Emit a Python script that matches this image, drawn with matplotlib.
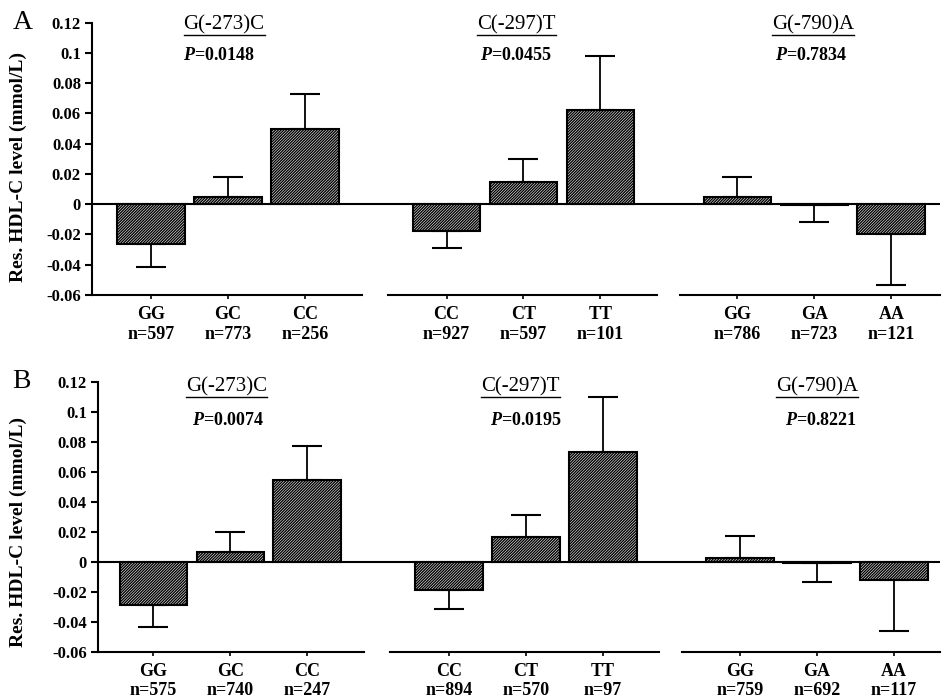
import numpy as np
import matplotlib
matplotlib.use('Agg')
import matplotlib.pyplot as plt
from matplotlib.lines import Line2D

plt.rcParams['font.family'] = 'Liberation Serif'
plt.rcParams['font.weight'] = 'bold'
plt.rcParams['mathtext.fontset'] = 'custom'
plt.rcParams['mathtext.it'] = 'Liberation Serif:italic:bold'
plt.rcParams['mathtext.rm'] = 'Liberation Serif:bold'
plt.rcParams['hatch.linewidth'] = 1.0

# Donnees
snps = ['G(-273)C', 'C(-297)T', 'G(-790)A']
genotypes = ['GG', 'GC', 'CC', 'CC', 'CT', 'TT', 'GG', 'GA', 'AA']
positions = [0, 1, 2, 3.84, 4.84, 5.84, 7.62, 8.62, 9.62]

a_means = [-0.026, 0.0045, 0.050, -0.018, 0.015, 0.062, 0.0045, -0.0005, -0.020]
a_err_ends = [-0.0415, 0.018, 0.073, -0.029, 0.0296, 0.098, 0.018, -0.0115, -0.0537]
a_n = [597, 773, 256, 927, 597, 101, 786, 723, 121]
a_p = ['0.0148', '0.0455', '0.7834']

b_means = [-0.029, 0.0063, 0.0543, -0.019, 0.0164, 0.073, 0.0027, -0.001, -0.0123]
b_err_ends = [-0.0435, 0.0195, 0.0772, -0.0314, 0.0314, 0.110, 0.0168, -0.0135, -0.046]
b_n = [575, 740, 247, 894, 570, 97, 759, 692, 117]
b_p = ['0.0074', '0.0195', '0.8221']

yticks = [0.12, 0.1, 0.08, 0.06, 0.04, 0.02, 0, -0.02, -0.04, -0.06]
ytick_labels = ['0.12', '0.1', '0.08', '0.06', '0.04', '0.02', '0', '-0.02', '-0.04', '-0.06']

fig = plt.figure(figsize=(9.42, 6.98), dpi=100)

panels = [
    dict(rect=[0.0977, 0.5774, 0.900, 0.3901], xlim=(-0.766, 10.25), means=a_means,
         ends=a_err_ends, n=a_n, p=a_p, letter='A', lab_y=0.47,
         title_x=[0.95, 4.75, 8.6], title_y=0.1185, p_x=[0.88, 4.75, 8.58], p_y=0.0985),
    dict(rect=[0.104, 0.0663, 0.894, 0.3869], xlim=(-0.72, 10.22), means=b_means,
         ends=b_err_ends, n=b_n, p=b_p, letter='B', lab_y=0.445,
         title_x=[0.95, 4.77, 8.62], title_y=0.1167, p_x=[0.97, 4.84, 8.67], p_y=0.094),
]

titles = []
for pan in panels:
    ax = fig.add_axes(pan['rect'])
    means = np.array(pan['means'])
    ends = np.array(pan['ends'])
    lower = np.where(ends < means, means - ends, 0)
    upper = np.where(ends > means, ends - means, 0)

    ax.axhline(0, color='black', lw=1.5, zorder=1)
    ax.bar(positions, means, width=0.88, color='white', edgecolor='black',
           linewidth=1.5, hatch='/' * 12, zorder=2)
    ax.errorbar(positions, means, yerr=[lower, upper], fmt='none', ecolor='black',
                elinewidth=1.3, capsize=11, capthick=1.5, zorder=3)

    ax.set_xlim(*pan['xlim'])
    ax.set_ylim(-0.06, 0.12)
    ax.set_yticks(yticks)
    ax.set_yticklabels(ytick_labels, fontsize=12)
    ax.set_xticks(positions)
    ax.set_xticklabels([f'{g}\nn={k}' for g, k in zip(genotypes, pan['n'])],
                       fontsize=13, linespacing=1.2)
    ax.tick_params(axis='y', length=5, width=1.5, pad=3)
    ax.tick_params(axis='x', length=3, width=1.2, pad=5)
    for s in ['top', 'right', 'bottom']:
        ax.spines[s].set_visible(False)
    ax.spines['left'].set_linewidth(1.5)

    # axe du bas coupe en trois segments
    for x0, x1 in [(pan['xlim'][0], 2.74), (3.08, 6.57), (6.87, pan['xlim'][1])]:
        ax.plot([x0, x1], [-0.06, -0.06], color='black', lw=1.5, clip_on=False)

    ax.set_ylabel('Res. HDL-C level (mmol/L)', fontsize=14, fontweight='bold')
    ax.yaxis.set_label_coords(-(pan['rect'][0] - 27 / 942) / pan['rect'][2], pan['lab_y'])

    for i in range(3):
        t = ax.text(pan['title_x'][i], pan['title_y'], snps[i], ha='center', va='center',
                    fontsize=15, fontweight='normal')
        titles.append(t)
        ax.text(pan['p_x'][i], pan['p_y'], f"$P$={pan['p'][i]}", ha='center',
                va='center', fontsize=13)

    top = pan['rect'][1] + pan['rect'][3]
    fig.text(0.013, top, pan['letter'], fontsize=20, va='center', ha='left',
             fontweight='normal')

# soulignement des titres
fig.canvas.draw()
renderer = fig.canvas.get_renderer()
inv = fig.transFigure.inverted()
for t in titles:
    bb = t.get_window_extent(renderer)
    (x0, y0), (x1, y1) = inv.transform([[bb.x0, bb.y0], [bb.x1, bb.y1]])
    fig.add_artist(Line2D([x0, x1], [y0 - 0.001, y0 - 0.001], color='black', lw=1.0))

fig.savefig('out.png', dpi=100)
